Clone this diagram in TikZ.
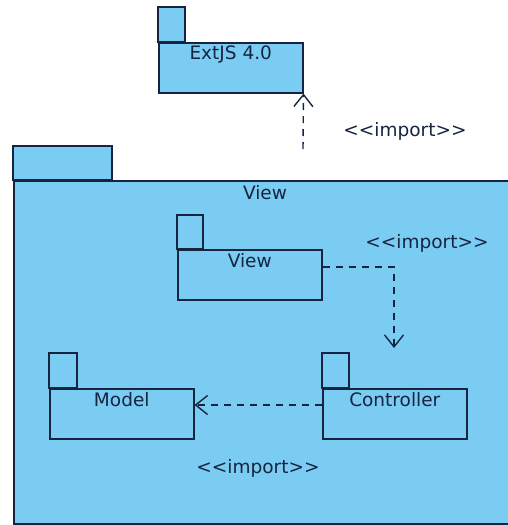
\documentclass[tikz,border=0pt]{standalone}
\usepackage{fontspec}
\setmainfont{DejaVu Sans}[Ligatures={NoCommon}]
\usetikzlibrary{arrows.meta}
\definecolor{pkgfill}{RGB}{122,204,242}
\definecolor{pkgline}{RGB}{22,36,66}
\newcommand{\imp}{<{}<import>{}>}
\begin{document}
\begin{tikzpicture}[x=1pt,y=-1pt,
  pkgbody/.style={draw=pkgline, fill=pkgfill, line width=1.5pt, minimum width=144pt, minimum height=50pt, inner sep=0pt, anchor=north west},
  pkgtab/.style={draw=pkgline, fill=pkgfill, line width=1.5pt},
  pkgtext/.style={text=pkgline, font=\fontsize{18.5}{21}\selectfont, anchor=north, inner sep=0pt, yshift=-4pt},
  dep/.style={draw=pkgline, line width=1.4pt, dash pattern=on 7pt off 6pt, -{Straight Barb[length=12pt,width=19pt,line width=1.4pt]}},
  deplabel/.style={text=pkgline, font=\fontsize{18.5}{21}\selectfont, inner sep=0pt}]
\useasboundingbox (0,0) rectangle (508,525);
% ExtJS
\node[pkgbody] (ext) at (158,42) {};
\draw[pkgtab] (158,42) rectangle (185,7);
\node[pkgtext] (extt) at (ext.north) {ExtJS 4.0};
% big view
\node[pkgbody, minimum width=500pt, minimum height=343pt] (big) at (13,180) {};
\draw[pkgtab] (13,180) rectangle (112,146);
\node[pkgtext, yshift=-1pt] (bigt) at (big.north -| 265,0) {View};
% inner view
\node[pkgbody] (view) at (177,249) {};
\draw[pkgtab] (177,249) rectangle (203,215);
\node[pkgtext] (viewt) at (view.north) {View};
% controller
\node[pkgbody] (ctrl) at (322,388) {};
\draw[pkgtab] (322,388) rectangle (349,353);
\node[pkgtext] (ctrlt) at (ctrl.north) {Controller};
% model
\node[pkgbody] (model) at (49,388) {};
\draw[pkgtab] (49,388) rectangle (77,353);
\node[pkgtext] (modelt) at (model.north) {Model};
% dependencies
\coordinate (s1) at (303,149);
\draw[dep] (s1) -- (ext.south east);
\node[deplabel] (l1) at (405,131) {\imp};
\coordinate (bend) at (394,267);
\coordinate (ctop) at (394,348);
\draw[dep] (view.east |- bend) -- (bend) -- (ctop);
\node[deplabel] (l2) at (427,243) {\imp};
\draw[dep] (ctrl.west |- 0,405) -- (model.east |- 0,405);
\node[deplabel] (l3) at (258,468) {\imp};
\end{tikzpicture}
\end{document}
